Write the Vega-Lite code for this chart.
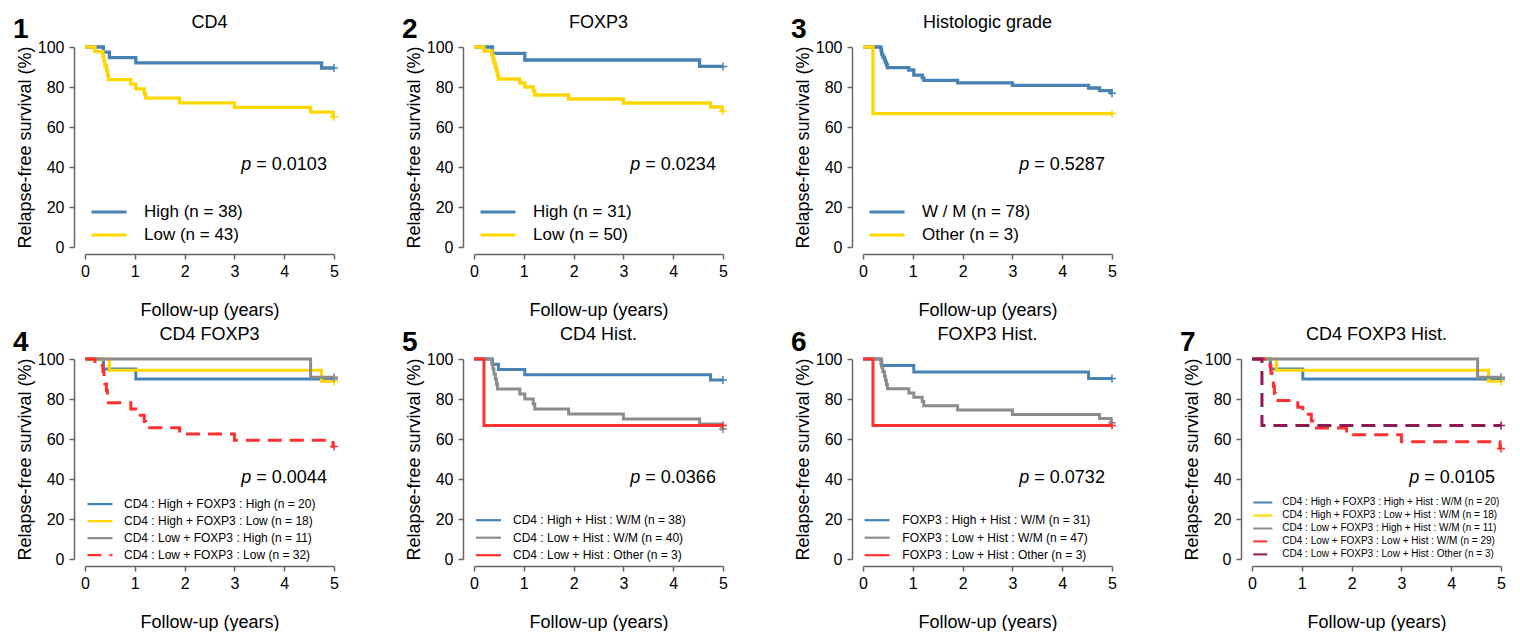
{
  "$schema": "https://vega.github.io/schema/vega-lite/v6.json",
  "padding": {"left": 12, "top": 14, "right": 0, "bottom": 0},
  "background": "white",
  "columns": 4,
  "bounds": "flush",
  "spacing": {"row": 112, "column": 140},
  "resolve": {
    "scale": {"color": "independent", "stroke": "independent", "strokeDash": "independent"},
    "legend": {"color": "independent", "strokeDash": "independent"}
  },
  "config": {
    "font": "Liberation Sans",
    "view": {"stroke": null},
    "axis": {
      "grid": false, "domainColor": "#666666", "domainWidth": 1.5, "tickColor": "#666666", "tickWidth": 1.5,
      "tickSize": 5, "labelColor": "#000000", "labelFontSize": 16, "titleColor": "#000000",
      "titleFontSize": 18, "titleFontWeight": "normal", "labelPadding": 4, "labelOverlap": false, "labelFlush": false
    },
    "axisX": {"offset": 7, "titlePadding": 22},
    "axisY": {"offset": 11, "titlePadding": 3, "labelPadding": 5},
    "legend": {"title": null, "padding": 0, "labelLimit": 600, "labelColor": "#000000", "orient": "none"}
  },
  "datasets": {
    "p1": [
      {"g": "High (n = 38)", "t": 0, "s": 100}, {"g": "High (n = 38)", "t": 0.37, "s": 97.4}, {"g": "High (n = 38)", "t": 0.49, "s": 94.7}, {"g": "High (n = 38)", "t": 1.02, "s": 92.1}, {"g": "High (n = 38)", "t": 4.75, "s": 89.5}, {"g": "High (n = 38)", "t": 5, "s": 89.5},
      {"g": "Low (n = 43)", "t": 0, "s": 100}, {"g": "Low (n = 43)", "t": 0.2, "s": 97.7}, {"g": "Low (n = 43)", "t": 0.36, "s": 95.3}, {"g": "Low (n = 43)", "t": 0.38, "s": 93.0}, {"g": "Low (n = 43)", "t": 0.40, "s": 90.7}, {"g": "Low (n = 43)", "t": 0.43, "s": 88.4}, {"g": "Low (n = 43)", "t": 0.45, "s": 86.0}, {"g": "Low (n = 43)", "t": 0.47, "s": 83.7}, {"g": "Low (n = 43)", "t": 0.92, "s": 81.4}, {"g": "Low (n = 43)", "t": 1.02, "s": 79.1}, {"g": "Low (n = 43)", "t": 1.19, "s": 76.7}, {"g": "Low (n = 43)", "t": 1.22, "s": 74.4}, {"g": "Low (n = 43)", "t": 1.9, "s": 72.1}, {"g": "Low (n = 43)", "t": 3.0, "s": 69.8}, {"g": "Low (n = 43)", "t": 4.53, "s": 67.4}, {"g": "Low (n = 43)", "t": 4.98, "s": 65.1}, {"g": "Low (n = 43)", "t": 5, "s": 65.1}
    ],
    "p2": [
      {"g": "High (n = 31)", "t": 0, "s": 100}, {"g": "High (n = 31)", "t": 0.37, "s": 96.8}, {"g": "High (n = 31)", "t": 1.02, "s": 93.5}, {"g": "High (n = 31)", "t": 4.53, "s": 90.3}, {"g": "High (n = 31)", "t": 5, "s": 90.3},
      {"g": "Low (n = 50)", "t": 0, "s": 100}, {"g": "Low (n = 50)", "t": 0.2, "s": 98}, {"g": "Low (n = 50)", "t": 0.36, "s": 96}, {"g": "Low (n = 50)", "t": 0.38, "s": 94}, {"g": "Low (n = 50)", "t": 0.40, "s": 92}, {"g": "Low (n = 50)", "t": 0.43, "s": 90}, {"g": "Low (n = 50)", "t": 0.45, "s": 88}, {"g": "Low (n = 50)", "t": 0.47, "s": 86}, {"g": "Low (n = 50)", "t": 0.49, "s": 84}, {"g": "Low (n = 50)", "t": 0.92, "s": 82}, {"g": "Low (n = 50)", "t": 1.02, "s": 80}, {"g": "Low (n = 50)", "t": 1.19, "s": 78}, {"g": "Low (n = 50)", "t": 1.22, "s": 76}, {"g": "Low (n = 50)", "t": 1.9, "s": 74}, {"g": "Low (n = 50)", "t": 3.0, "s": 72}, {"g": "Low (n = 50)", "t": 4.75, "s": 70}, {"g": "Low (n = 50)", "t": 4.98, "s": 68}, {"g": "Low (n = 50)", "t": 5, "s": 68}
    ],
    "p3": [
      {"g": "W / M (n = 78)", "t": 0, "s": 100}, {"g": "W / M (n = 78)", "t": 0.36, "s": 98.7}, {"g": "W / M (n = 78)", "t": 0.37, "s": 97.4}, {"g": "W / M (n = 78)", "t": 0.38, "s": 96.2}, {"g": "W / M (n = 78)", "t": 0.40, "s": 94.9}, {"g": "W / M (n = 78)", "t": 0.43, "s": 93.6}, {"g": "W / M (n = 78)", "t": 0.45, "s": 92.3}, {"g": "W / M (n = 78)", "t": 0.47, "s": 91.0}, {"g": "W / M (n = 78)", "t": 0.49, "s": 89.7}, {"g": "W / M (n = 78)", "t": 0.92, "s": 88.5}, {"g": "W / M (n = 78)", "t": 1.02, "s": 85.9}, {"g": "W / M (n = 78)", "t": 1.19, "s": 84.6}, {"g": "W / M (n = 78)", "t": 1.22, "s": 83.3}, {"g": "W / M (n = 78)", "t": 1.9, "s": 82.1}, {"g": "W / M (n = 78)", "t": 3.0, "s": 80.8}, {"g": "W / M (n = 78)", "t": 4.53, "s": 79.5}, {"g": "W / M (n = 78)", "t": 4.75, "s": 78.2}, {"g": "W / M (n = 78)", "t": 4.98, "s": 76.9}, {"g": "W / M (n = 78)", "t": 5, "s": 76.9},
      {"g": "Other (n = 3)", "t": 0, "s": 100}, {"g": "Other (n = 3)", "t": 0.2, "s": 66.7}, {"g": "Other (n = 3)", "t": 5, "s": 66.7}
    ],
    "p4": [
      {"g": "CD4 : High + FOXP3 : High (n = 20)", "t": 0, "s": 100}, {"g": "CD4 : High + FOXP3 : High (n = 20)", "t": 0.37, "s": 95}, {"g": "CD4 : High + FOXP3 : High (n = 20)", "t": 1.02, "s": 90}, {"g": "CD4 : High + FOXP3 : High (n = 20)", "t": 5, "s": 90},
      {"g": "CD4 : High + FOXP3 : Low (n = 18)", "t": 0, "s": 100}, {"g": "CD4 : High + FOXP3 : Low (n = 18)", "t": 0.49, "s": 94.4}, {"g": "CD4 : High + FOXP3 : Low (n = 18)", "t": 4.75, "s": 88.9}, {"g": "CD4 : High + FOXP3 : Low (n = 18)", "t": 5, "s": 88.9},
      {"g": "CD4 : Low + FOXP3 : High (n = 11)", "t": 0, "s": 100}, {"g": "CD4 : Low + FOXP3 : High (n = 11)", "t": 4.53, "s": 90.9}, {"g": "CD4 : Low + FOXP3 : High (n = 11)", "t": 5, "s": 90.9},
      {"g": "CD4 : Low + FOXP3 : Low (n = 32)", "t": 0, "s": 100}, {"g": "CD4 : Low + FOXP3 : Low (n = 32)", "t": 0.2, "s": 96.9}, {"g": "CD4 : Low + FOXP3 : Low (n = 32)", "t": 0.36, "s": 93.8}, {"g": "CD4 : Low + FOXP3 : Low (n = 32)", "t": 0.38, "s": 90.6}, {"g": "CD4 : Low + FOXP3 : Low (n = 32)", "t": 0.40, "s": 87.5}, {"g": "CD4 : Low + FOXP3 : Low (n = 32)", "t": 0.43, "s": 84.4}, {"g": "CD4 : Low + FOXP3 : Low (n = 32)", "t": 0.45, "s": 81.3}, {"g": "CD4 : Low + FOXP3 : Low (n = 32)", "t": 0.47, "s": 78.1}, {"g": "CD4 : Low + FOXP3 : Low (n = 32)", "t": 0.92, "s": 75.0}, {"g": "CD4 : Low + FOXP3 : Low (n = 32)", "t": 1.02, "s": 71.9}, {"g": "CD4 : Low + FOXP3 : Low (n = 32)", "t": 1.19, "s": 68.8}, {"g": "CD4 : Low + FOXP3 : Low (n = 32)", "t": 1.22, "s": 65.6}, {"g": "CD4 : Low + FOXP3 : Low (n = 32)", "t": 1.9, "s": 62.5}, {"g": "CD4 : Low + FOXP3 : Low (n = 32)", "t": 3.0, "s": 59.4}, {"g": "CD4 : Low + FOXP3 : Low (n = 32)", "t": 4.98, "s": 56.3}, {"g": "CD4 : Low + FOXP3 : Low (n = 32)", "t": 5, "s": 56.3}
    ],
    "p5": [
      {"g": "CD4 : High + Hist : W/M (n = 38)", "t": 0, "s": 100}, {"g": "CD4 : High + Hist : W/M (n = 38)", "t": 0.37, "s": 97.4}, {"g": "CD4 : High + Hist : W/M (n = 38)", "t": 0.49, "s": 94.7}, {"g": "CD4 : High + Hist : W/M (n = 38)", "t": 1.02, "s": 92.1}, {"g": "CD4 : High + Hist : W/M (n = 38)", "t": 4.75, "s": 89.5}, {"g": "CD4 : High + Hist : W/M (n = 38)", "t": 5, "s": 89.5},
      {"g": "CD4 : Low + Hist : W/M (n = 40)", "t": 0, "s": 100}, {"g": "CD4 : Low + Hist : W/M (n = 40)", "t": 0.36, "s": 97.5}, {"g": "CD4 : Low + Hist : W/M (n = 40)", "t": 0.38, "s": 95}, {"g": "CD4 : Low + Hist : W/M (n = 40)", "t": 0.40, "s": 92.5}, {"g": "CD4 : Low + Hist : W/M (n = 40)", "t": 0.43, "s": 90}, {"g": "CD4 : Low + Hist : W/M (n = 40)", "t": 0.45, "s": 87.5}, {"g": "CD4 : Low + Hist : W/M (n = 40)", "t": 0.47, "s": 85}, {"g": "CD4 : Low + Hist : W/M (n = 40)", "t": 0.92, "s": 82.5}, {"g": "CD4 : Low + Hist : W/M (n = 40)", "t": 1.02, "s": 80}, {"g": "CD4 : Low + Hist : W/M (n = 40)", "t": 1.19, "s": 77.5}, {"g": "CD4 : Low + Hist : W/M (n = 40)", "t": 1.22, "s": 75}, {"g": "CD4 : Low + Hist : W/M (n = 40)", "t": 1.9, "s": 72.5}, {"g": "CD4 : Low + Hist : W/M (n = 40)", "t": 3.0, "s": 70}, {"g": "CD4 : Low + Hist : W/M (n = 40)", "t": 4.53, "s": 67.5}, {"g": "CD4 : Low + Hist : W/M (n = 40)", "t": 4.98, "s": 65}, {"g": "CD4 : Low + Hist : W/M (n = 40)", "t": 5, "s": 65},
      {"g": "CD4 : Low + Hist : Other (n = 3)", "t": 0, "s": 100}, {"g": "CD4 : Low + Hist : Other (n = 3)", "t": 0.2, "s": 66.7}, {"g": "CD4 : Low + Hist : Other (n = 3)", "t": 5, "s": 66.7}
    ],
    "p6": [
      {"g": "FOXP3 : High + Hist : W/M (n = 31)", "t": 0, "s": 100}, {"g": "FOXP3 : High + Hist : W/M (n = 31)", "t": 0.37, "s": 96.8}, {"g": "FOXP3 : High + Hist : W/M (n = 31)", "t": 1.02, "s": 93.5}, {"g": "FOXP3 : High + Hist : W/M (n = 31)", "t": 4.53, "s": 90.3}, {"g": "FOXP3 : High + Hist : W/M (n = 31)", "t": 5, "s": 90.3},
      {"g": "FOXP3 : Low + Hist : W/M (n = 47)", "t": 0, "s": 100}, {"g": "FOXP3 : Low + Hist : W/M (n = 47)", "t": 0.36, "s": 97.9}, {"g": "FOXP3 : Low + Hist : W/M (n = 47)", "t": 0.38, "s": 95.7}, {"g": "FOXP3 : Low + Hist : W/M (n = 47)", "t": 0.40, "s": 93.6}, {"g": "FOXP3 : Low + Hist : W/M (n = 47)", "t": 0.43, "s": 91.5}, {"g": "FOXP3 : Low + Hist : W/M (n = 47)", "t": 0.45, "s": 89.4}, {"g": "FOXP3 : Low + Hist : W/M (n = 47)", "t": 0.47, "s": 87.2}, {"g": "FOXP3 : Low + Hist : W/M (n = 47)", "t": 0.49, "s": 85.1}, {"g": "FOXP3 : Low + Hist : W/M (n = 47)", "t": 0.92, "s": 83.0}, {"g": "FOXP3 : Low + Hist : W/M (n = 47)", "t": 1.02, "s": 80.9}, {"g": "FOXP3 : Low + Hist : W/M (n = 47)", "t": 1.19, "s": 78.7}, {"g": "FOXP3 : Low + Hist : W/M (n = 47)", "t": 1.22, "s": 76.6}, {"g": "FOXP3 : Low + Hist : W/M (n = 47)", "t": 1.9, "s": 74.5}, {"g": "FOXP3 : Low + Hist : W/M (n = 47)", "t": 3.0, "s": 72.3}, {"g": "FOXP3 : Low + Hist : W/M (n = 47)", "t": 4.75, "s": 70.2}, {"g": "FOXP3 : Low + Hist : W/M (n = 47)", "t": 4.98, "s": 68.1}, {"g": "FOXP3 : Low + Hist : W/M (n = 47)", "t": 5, "s": 68.1},
      {"g": "FOXP3 : Low + Hist : Other (n = 3)", "t": 0, "s": 100}, {"g": "FOXP3 : Low + Hist : Other (n = 3)", "t": 0.2, "s": 66.7}, {"g": "FOXP3 : Low + Hist : Other (n = 3)", "t": 5, "s": 66.7}
    ],
    "p7": [
      {"g": "CD4 : High + FOXP3 : High + Hist : W/M (n = 20)", "t": 0, "s": 100}, {"g": "CD4 : High + FOXP3 : High + Hist : W/M (n = 20)", "t": 0.37, "s": 95}, {"g": "CD4 : High + FOXP3 : High + Hist : W/M (n = 20)", "t": 1.02, "s": 90}, {"g": "CD4 : High + FOXP3 : High + Hist : W/M (n = 20)", "t": 5, "s": 90},
      {"g": "CD4 : High + FOXP3 : Low + Hist : W/M (n = 18)", "t": 0, "s": 100}, {"g": "CD4 : High + FOXP3 : Low + Hist : W/M (n = 18)", "t": 0.49, "s": 94.4}, {"g": "CD4 : High + FOXP3 : Low + Hist : W/M (n = 18)", "t": 4.75, "s": 88.9}, {"g": "CD4 : High + FOXP3 : Low + Hist : W/M (n = 18)", "t": 5, "s": 88.9},
      {"g": "CD4 : Low + FOXP3 : High + Hist : W/M (n = 11)", "t": 0, "s": 100}, {"g": "CD4 : Low + FOXP3 : High + Hist : W/M (n = 11)", "t": 4.53, "s": 90.9}, {"g": "CD4 : Low + FOXP3 : High + Hist : W/M (n = 11)", "t": 5, "s": 90.9},
      {"g": "CD4 : Low + FOXP3 : Low + Hist : W/M (n = 29)", "t": 0, "s": 100}, {"g": "CD4 : Low + FOXP3 : Low + Hist : W/M (n = 29)", "t": 0.36, "s": 96.6}, {"g": "CD4 : Low + FOXP3 : Low + Hist : W/M (n = 29)", "t": 0.38, "s": 93.1}, {"g": "CD4 : Low + FOXP3 : Low + Hist : W/M (n = 29)", "t": 0.40, "s": 89.7}, {"g": "CD4 : Low + FOXP3 : Low + Hist : W/M (n = 29)", "t": 0.43, "s": 86.2}, {"g": "CD4 : Low + FOXP3 : Low + Hist : W/M (n = 29)", "t": 0.45, "s": 82.8}, {"g": "CD4 : Low + FOXP3 : Low + Hist : W/M (n = 29)", "t": 0.47, "s": 79.3}, {"g": "CD4 : Low + FOXP3 : Low + Hist : W/M (n = 29)", "t": 0.92, "s": 75.9}, {"g": "CD4 : Low + FOXP3 : Low + Hist : W/M (n = 29)", "t": 1.02, "s": 72.4}, {"g": "CD4 : Low + FOXP3 : Low + Hist : W/M (n = 29)", "t": 1.19, "s": 69.0}, {"g": "CD4 : Low + FOXP3 : Low + Hist : W/M (n = 29)", "t": 1.22, "s": 65.5}, {"g": "CD4 : Low + FOXP3 : Low + Hist : W/M (n = 29)", "t": 1.9, "s": 62.1}, {"g": "CD4 : Low + FOXP3 : Low + Hist : W/M (n = 29)", "t": 3.0, "s": 58.6}, {"g": "CD4 : Low + FOXP3 : Low + Hist : W/M (n = 29)", "t": 4.98, "s": 55.2}, {"g": "CD4 : Low + FOXP3 : Low + Hist : W/M (n = 29)", "t": 5, "s": 55.2},
      {"g": "CD4 : Low + FOXP3 : Low + Hist : Other (n = 3)", "t": 0, "s": 100}, {"g": "CD4 : Low + FOXP3 : Low + Hist : Other (n = 3)", "t": 0.2, "s": 66.7}, {"g": "CD4 : Low + FOXP3 : Low + Hist : Other (n = 3)", "t": 5, "s": 66.7}
    ]
  },
  "concat": [
    {
      "width": 249, "height": 200,
      "layer": [
        {"data": {"name": "p1"}, "mark": {"type": "line", "interpolate": "step-after", "strokeWidth": 3.3, "strokeCap": "butt"},
         "encoding": {
           "x": {"field": "t", "type": "quantitative", "scale": {"domain": [0, 5]}, "axis": {"title": "Follow-up (years)", "values": [0, 1, 2, 3, 4, 5], "format": "d"}},
           "y": {"field": "s", "type": "quantitative", "scale": {"domain": [0, 100]}, "axis": {"title": "Relapse-free survival (%)", "values": [0, 20, 40, 60, 80, 100], "tickCount": 10, "format": "d"}},
           "color": {"field": "g", "type": "nominal", "scale": {"domain": ["High (n = 38)", "Low (n = 43)"], "range": ["#4682B4", "#FFD700"]},
             "legend": {"legendX": 15.5, "legendY": 156.5, "symbolType": "M-2.5,0H2.5", "symbolSize": 196, "symbolStrokeWidth": 3, "labelFontSize": 17, "labelOffset": 26.5, "rowPadding": 5}}
         }},
        {"data": {"name": "p1"}, "transform": [{"filter": "datum.t >= 5"}], "mark": {"type": "point", "shape": "M-1,0H1M0,-1V1", "size": 64, "filled": false, "strokeWidth": 1.5, "opacity": 1},
         "encoding": {"x": {"field": "t", "type": "quantitative"}, "y": {"field": "s", "type": "quantitative"},
           "stroke": {"field": "g", "type": "nominal", "scale": {"domain": ["High (n = 38)", "Low (n = 43)"], "range": ["#4682B4", "#FFD700"]}, "legend": null}}},
        {"data": {"values": [{"lab": "1"}]}, "mark": {"type": "text", "fontSize": 28, "fontWeight": "bold", "align": "center", "baseline": "alphabetic", "color": "#000000"},
         "encoding": {"x": {"datum": -1.29, "type": "quantitative"}, "y": {"datum": 104.5, "type": "quantitative"}, "text": {"field": "lab"}}},
        {"data": {"values": [{"lab": "CD4"}]}, "mark": {"type": "text", "fontSize": 18, "align": "center", "baseline": "alphabetic", "color": "#000000"},
         "encoding": {"x": {"datum": 2.5, "type": "quantitative"}, "y": {"datum": 109.3, "type": "quantitative"}, "text": {"field": "lab"}}},
        {"data": {"values": [{"lab": "p"}]}, "mark": {"type": "text", "fontSize": 18, "fontStyle": "italic", "align": "right", "baseline": "middle", "dx": -2, "color": "#000000"},
         "encoding": {"x": {"datum": 3.38, "type": "quantitative"}, "y": {"datum": 41, "type": "quantitative"}, "text": {"field": "lab"}}},
        {"data": {"values": [{"lab": "= 0.0103"}]}, "mark": {"type": "text", "fontSize": 18, "align": "left", "baseline": "middle", "dx": 3, "color": "#000000"},
         "encoding": {"x": {"datum": 3.38, "type": "quantitative"}, "y": {"datum": 41, "type": "quantitative"}, "text": {"field": "lab"}}}
      ]
    },
    {
      "width": 249, "height": 200,
      "layer": [
        {"data": {"name": "p2"}, "mark": {"type": "line", "interpolate": "step-after", "strokeWidth": 3.3, "strokeCap": "butt"},
         "encoding": {
           "x": {"field": "t", "type": "quantitative", "scale": {"domain": [0, 5]}, "axis": {"title": "Follow-up (years)", "values": [0, 1, 2, 3, 4, 5], "format": "d"}},
           "y": {"field": "s", "type": "quantitative", "scale": {"domain": [0, 100]}, "axis": {"title": "Relapse-free survival (%)", "values": [0, 20, 40, 60, 80, 100], "tickCount": 10, "format": "d"}},
           "color": {"field": "g", "type": "nominal", "scale": {"domain": ["High (n = 31)", "Low (n = 50)"], "range": ["#4682B4", "#FFD700"]},
             "legend": {"legendX": 15.5, "legendY": 156.5, "symbolType": "M-2.5,0H2.5", "symbolSize": 196, "symbolStrokeWidth": 3, "labelFontSize": 17, "labelOffset": 26.5, "rowPadding": 5}}
         }},
        {"data": {"name": "p2"}, "transform": [{"filter": "datum.t >= 5"}], "mark": {"type": "point", "shape": "M-1,0H1M0,-1V1", "size": 64, "filled": false, "strokeWidth": 1.5, "opacity": 1},
         "encoding": {"x": {"field": "t", "type": "quantitative"}, "y": {"field": "s", "type": "quantitative"},
           "stroke": {"field": "g", "type": "nominal", "scale": {"domain": ["High (n = 31)", "Low (n = 50)"], "range": ["#4682B4", "#FFD700"]}, "legend": null}}},
        {"data": {"values": [{"lab": "2"}]}, "mark": {"type": "text", "fontSize": 28, "fontWeight": "bold", "align": "center", "baseline": "alphabetic", "color": "#000000"},
         "encoding": {"x": {"datum": -1.29, "type": "quantitative"}, "y": {"datum": 104.5, "type": "quantitative"}, "text": {"field": "lab"}}},
        {"data": {"values": [{"lab": "FOXP3"}]}, "mark": {"type": "text", "fontSize": 18, "align": "center", "baseline": "alphabetic", "color": "#000000"},
         "encoding": {"x": {"datum": 2.5, "type": "quantitative"}, "y": {"datum": 109.3, "type": "quantitative"}, "text": {"field": "lab"}}},
        {"data": {"values": [{"lab": "p"}]}, "mark": {"type": "text", "fontSize": 18, "fontStyle": "italic", "align": "right", "baseline": "middle", "dx": -2, "color": "#000000"},
         "encoding": {"x": {"datum": 3.38, "type": "quantitative"}, "y": {"datum": 41, "type": "quantitative"}, "text": {"field": "lab"}}},
        {"data": {"values": [{"lab": "= 0.0234"}]}, "mark": {"type": "text", "fontSize": 18, "align": "left", "baseline": "middle", "dx": 3, "color": "#000000"},
         "encoding": {"x": {"datum": 3.38, "type": "quantitative"}, "y": {"datum": 41, "type": "quantitative"}, "text": {"field": "lab"}}}
      ]
    },
    {
      "width": 249, "height": 200,
      "layer": [
        {"data": {"name": "p3"}, "mark": {"type": "line", "interpolate": "step-after", "strokeWidth": 3.3, "strokeCap": "butt"},
         "encoding": {
           "x": {"field": "t", "type": "quantitative", "scale": {"domain": [0, 5]}, "axis": {"title": "Follow-up (years)", "values": [0, 1, 2, 3, 4, 5], "format": "d"}},
           "y": {"field": "s", "type": "quantitative", "scale": {"domain": [0, 100]}, "axis": {"title": "Relapse-free survival (%)", "values": [0, 20, 40, 60, 80, 100], "tickCount": 10, "format": "d"}},
           "color": {"field": "g", "type": "nominal", "scale": {"domain": ["W / M (n = 78)", "Other (n = 3)"], "range": ["#4682B4", "#FFD700"]},
             "legend": {"legendX": 15.5, "legendY": 156.5, "symbolType": "M-2.5,0H2.5", "symbolSize": 196, "symbolStrokeWidth": 3, "labelFontSize": 17, "labelOffset": 26.5, "rowPadding": 5}}
         }},
        {"data": {"name": "p3"}, "transform": [{"filter": "datum.t >= 5"}], "mark": {"type": "point", "shape": "M-1,0H1M0,-1V1", "size": 64, "filled": false, "strokeWidth": 1.5, "opacity": 1},
         "encoding": {"x": {"field": "t", "type": "quantitative"}, "y": {"field": "s", "type": "quantitative"},
           "stroke": {"field": "g", "type": "nominal", "scale": {"domain": ["W / M (n = 78)", "Other (n = 3)"], "range": ["#4682B4", "#FFD700"]}, "legend": null}}},
        {"data": {"values": [{"lab": "3"}]}, "mark": {"type": "text", "fontSize": 28, "fontWeight": "bold", "align": "center", "baseline": "alphabetic", "color": "#000000"},
         "encoding": {"x": {"datum": -1.29, "type": "quantitative"}, "y": {"datum": 104.5, "type": "quantitative"}, "text": {"field": "lab"}}},
        {"data": {"values": [{"lab": "Histologic grade"}]}, "mark": {"type": "text", "fontSize": 18, "align": "center", "baseline": "alphabetic", "color": "#000000"},
         "encoding": {"x": {"datum": 2.5, "type": "quantitative"}, "y": {"datum": 109.3, "type": "quantitative"}, "text": {"field": "lab"}}},
        {"data": {"values": [{"lab": "p"}]}, "mark": {"type": "text", "fontSize": 18, "fontStyle": "italic", "align": "right", "baseline": "middle", "dx": -2, "color": "#000000"},
         "encoding": {"x": {"datum": 3.38, "type": "quantitative"}, "y": {"datum": 41, "type": "quantitative"}, "text": {"field": "lab"}}},
        {"data": {"values": [{"lab": "= 0.5287"}]}, "mark": {"type": "text", "fontSize": 18, "align": "left", "baseline": "middle", "dx": 3, "color": "#000000"},
         "encoding": {"x": {"datum": 3.38, "type": "quantitative"}, "y": {"datum": 41, "type": "quantitative"}, "text": {"field": "lab"}}}
      ]
    },
    {"width": 249, "height": 200, "data": {"values": []}, "mark": "point"},
    {
      "width": 249, "height": 200,
      "layer": [
        {"data": {"name": "p4"}, "mark": {"type": "line", "interpolate": "step-after", "strokeWidth": 3, "strokeCap": "butt"},
         "encoding": {
           "x": {"field": "t", "type": "quantitative", "scale": {"domain": [0, 5]}, "axis": {"title": "Follow-up (years)", "values": [0, 1, 2, 3, 4, 5], "format": "d"}},
           "y": {"field": "s", "type": "quantitative", "scale": {"domain": [0, 100]}, "axis": {"title": "Relapse-free survival (%)", "values": [0, 20, 40, 60, 80, 100], "tickCount": 10, "format": "d"}},
           "color": {"field": "g", "type": "nominal", "scale": {"domain": ["CD4 : High + FOXP3 : High (n = 20)", "CD4 : High + FOXP3 : Low (n = 18)", "CD4 : Low + FOXP3 : High (n = 11)", "CD4 : Low + FOXP3 : Low (n = 32)"], "range": ["#4682B4", "#FFD700", "#8C8C8C", "#FF3030"]},
             "legend": {"legendX": 8.5, "legendY": 138.7, "symbolType": "M-2.5,0H2.5", "symbolSize": 100, "symbolStrokeWidth": 2.2, "labelFontSize": 12, "labelOffset": 17.5, "rowPadding": 4}},
           "strokeDash": {"field": "g", "type": "nominal", "scale": {"domain": ["CD4 : High + FOXP3 : High (n = 20)", "CD4 : High + FOXP3 : Low (n = 18)", "CD4 : Low + FOXP3 : High (n = 11)", "CD4 : Low + FOXP3 : Low (n = 32)"], "range": [[1, 0], [1, 0], [1, 0], [14, 8]]},
             "legend": {"legendX": 8.5, "legendY": 138.7, "symbolType": "M-2.5,0H2.5", "symbolSize": 100, "symbolStrokeWidth": 2.2, "labelFontSize": 12, "labelOffset": 17.5, "rowPadding": 4}}
         }},
        {"data": {"name": "p4"}, "transform": [{"filter": "datum.t >= 5"}], "mark": {"type": "point", "shape": "M-1,0H1M0,-1V1", "size": 64, "filled": false, "strokeWidth": 1.5, "opacity": 1},
         "encoding": {"x": {"field": "t", "type": "quantitative"}, "y": {"field": "s", "type": "quantitative"},
           "stroke": {"field": "g", "type": "nominal", "scale": {"domain": ["CD4 : High + FOXP3 : High (n = 20)", "CD4 : High + FOXP3 : Low (n = 18)", "CD4 : Low + FOXP3 : High (n = 11)", "CD4 : Low + FOXP3 : Low (n = 32)"], "range": ["#4682B4", "#FFD700", "#8C8C8C", "#FF3030"]}, "legend": null}}},
        {"data": {"values": [{"lab": "4"}]}, "mark": {"type": "text", "fontSize": 28, "fontWeight": "bold", "align": "center", "baseline": "alphabetic", "color": "#000000"},
         "encoding": {"x": {"datum": -1.29, "type": "quantitative"}, "y": {"datum": 104, "type": "quantitative"}, "text": {"field": "lab"}}},
        {"data": {"values": [{"lab": "CD4 FOXP3"}]}, "mark": {"type": "text", "fontSize": 18, "align": "center", "baseline": "alphabetic", "color": "#000000"},
         "encoding": {"x": {"datum": 2.5, "type": "quantitative"}, "y": {"datum": 109.3, "type": "quantitative"}, "text": {"field": "lab"}}},
        {"data": {"values": [{"lab": "p"}]}, "mark": {"type": "text", "fontSize": 18, "fontStyle": "italic", "align": "right", "baseline": "middle", "dx": -2, "color": "#000000"},
         "encoding": {"x": {"datum": 3.38, "type": "quantitative"}, "y": {"datum": 40.5, "type": "quantitative"}, "text": {"field": "lab"}}},
        {"data": {"values": [{"lab": "= 0.0044"}]}, "mark": {"type": "text", "fontSize": 18, "align": "left", "baseline": "middle", "dx": 3, "color": "#000000"},
         "encoding": {"x": {"datum": 3.38, "type": "quantitative"}, "y": {"datum": 40.5, "type": "quantitative"}, "text": {"field": "lab"}}}
      ]
    },
    {
      "width": 249, "height": 200,
      "layer": [
        {"data": {"name": "p5"}, "mark": {"type": "line", "interpolate": "step-after", "strokeWidth": 3, "strokeCap": "butt"},
         "encoding": {
           "x": {"field": "t", "type": "quantitative", "scale": {"domain": [0, 5]}, "axis": {"title": "Follow-up (years)", "values": [0, 1, 2, 3, 4, 5], "format": "d"}},
           "y": {"field": "s", "type": "quantitative", "scale": {"domain": [0, 100]}, "axis": {"title": "Relapse-free survival (%)", "values": [0, 20, 40, 60, 80, 100], "tickCount": 10, "format": "d"}},
           "color": {"field": "g", "type": "nominal", "scale": {"domain": ["CD4 : High + Hist : W/M (n = 38)", "CD4 : Low + Hist : W/M (n = 40)", "CD4 : Low + Hist : Other (n = 3)"], "range": ["#4682B4", "#8C8C8C", "#FF3030"]},
             "legend": {"legendX": 8, "legendY": 154.7, "symbolType": "M-2.5,0H2.5", "symbolSize": 100, "symbolStrokeWidth": 2.2, "labelFontSize": 12, "labelOffset": 18, "rowPadding": 4.5}}
         }},
        {"data": {"name": "p5"}, "transform": [{"filter": "datum.t >= 5"}], "mark": {"type": "point", "shape": "M-1,0H1M0,-1V1", "size": 64, "filled": false, "strokeWidth": 1.5, "opacity": 1},
         "encoding": {"x": {"field": "t", "type": "quantitative"}, "y": {"field": "s", "type": "quantitative"},
           "stroke": {"field": "g", "type": "nominal", "scale": {"domain": ["CD4 : High + Hist : W/M (n = 38)", "CD4 : Low + Hist : W/M (n = 40)", "CD4 : Low + Hist : Other (n = 3)"], "range": ["#4682B4", "#8C8C8C", "#FF3030"]}, "legend": null}}},
        {"data": {"values": [{"lab": "5"}]}, "mark": {"type": "text", "fontSize": 28, "fontWeight": "bold", "align": "center", "baseline": "alphabetic", "color": "#000000"},
         "encoding": {"x": {"datum": -1.29, "type": "quantitative"}, "y": {"datum": 104, "type": "quantitative"}, "text": {"field": "lab"}}},
        {"data": {"values": [{"lab": "CD4 Hist."}]}, "mark": {"type": "text", "fontSize": 18, "align": "center", "baseline": "alphabetic", "color": "#000000"},
         "encoding": {"x": {"datum": 2.5, "type": "quantitative"}, "y": {"datum": 109.3, "type": "quantitative"}, "text": {"field": "lab"}}},
        {"data": {"values": [{"lab": "p"}]}, "mark": {"type": "text", "fontSize": 18, "fontStyle": "italic", "align": "right", "baseline": "middle", "dx": -2, "color": "#000000"},
         "encoding": {"x": {"datum": 3.38, "type": "quantitative"}, "y": {"datum": 40.5, "type": "quantitative"}, "text": {"field": "lab"}}},
        {"data": {"values": [{"lab": "= 0.0366"}]}, "mark": {"type": "text", "fontSize": 18, "align": "left", "baseline": "middle", "dx": 3, "color": "#000000"},
         "encoding": {"x": {"datum": 3.38, "type": "quantitative"}, "y": {"datum": 40.5, "type": "quantitative"}, "text": {"field": "lab"}}}
      ]
    },
    {
      "width": 249, "height": 200,
      "layer": [
        {"data": {"name": "p6"}, "mark": {"type": "line", "interpolate": "step-after", "strokeWidth": 3, "strokeCap": "butt"},
         "encoding": {
           "x": {"field": "t", "type": "quantitative", "scale": {"domain": [0, 5]}, "axis": {"title": "Follow-up (years)", "values": [0, 1, 2, 3, 4, 5], "format": "d"}},
           "y": {"field": "s", "type": "quantitative", "scale": {"domain": [0, 100]}, "axis": {"title": "Relapse-free survival (%)", "values": [0, 20, 40, 60, 80, 100], "tickCount": 10, "format": "d"}},
           "color": {"field": "g", "type": "nominal", "scale": {"domain": ["FOXP3 : High + Hist : W/M (n = 31)", "FOXP3 : Low + Hist : W/M (n = 47)", "FOXP3 : Low + Hist : Other (n = 3)"], "range": ["#4682B4", "#8C8C8C", "#FF3030"]},
             "legend": {"legendX": 7.6, "legendY": 154.7, "symbolType": "M-2.5,0H2.5", "symbolSize": 100, "symbolStrokeWidth": 2.2, "labelFontSize": 12, "labelOffset": 18.7, "rowPadding": 4.5}}
         }},
        {"data": {"name": "p6"}, "transform": [{"filter": "datum.t >= 5"}], "mark": {"type": "point", "shape": "M-1,0H1M0,-1V1", "size": 64, "filled": false, "strokeWidth": 1.5, "opacity": 1},
         "encoding": {"x": {"field": "t", "type": "quantitative"}, "y": {"field": "s", "type": "quantitative"},
           "stroke": {"field": "g", "type": "nominal", "scale": {"domain": ["FOXP3 : High + Hist : W/M (n = 31)", "FOXP3 : Low + Hist : W/M (n = 47)", "FOXP3 : Low + Hist : Other (n = 3)"], "range": ["#4682B4", "#8C8C8C", "#FF3030"]}, "legend": null}}},
        {"data": {"values": [{"lab": "6"}]}, "mark": {"type": "text", "fontSize": 28, "fontWeight": "bold", "align": "center", "baseline": "alphabetic", "color": "#000000"},
         "encoding": {"x": {"datum": -1.29, "type": "quantitative"}, "y": {"datum": 104, "type": "quantitative"}, "text": {"field": "lab"}}},
        {"data": {"values": [{"lab": "FOXP3 Hist."}]}, "mark": {"type": "text", "fontSize": 18, "align": "center", "baseline": "alphabetic", "color": "#000000"},
         "encoding": {"x": {"datum": 2.5, "type": "quantitative"}, "y": {"datum": 109.3, "type": "quantitative"}, "text": {"field": "lab"}}},
        {"data": {"values": [{"lab": "p"}]}, "mark": {"type": "text", "fontSize": 18, "fontStyle": "italic", "align": "right", "baseline": "middle", "dx": -2, "color": "#000000"},
         "encoding": {"x": {"datum": 3.38, "type": "quantitative"}, "y": {"datum": 40.5, "type": "quantitative"}, "text": {"field": "lab"}}},
        {"data": {"values": [{"lab": "= 0.0732"}]}, "mark": {"type": "text", "fontSize": 18, "align": "left", "baseline": "middle", "dx": 3, "color": "#000000"},
         "encoding": {"x": {"datum": 3.38, "type": "quantitative"}, "y": {"datum": 40.5, "type": "quantitative"}, "text": {"field": "lab"}}}
      ]
    },
    {
      "width": 249, "height": 200,
      "layer": [
        {"data": {"name": "p7"}, "mark": {"type": "line", "interpolate": "step-after", "strokeWidth": 3, "strokeCap": "butt"},
         "encoding": {
           "x": {"field": "t", "type": "quantitative", "scale": {"domain": [0, 5]}, "axis": {"title": "Follow-up (years)", "values": [0, 1, 2, 3, 4, 5], "format": "d"}},
           "y": {"field": "s", "type": "quantitative", "scale": {"domain": [0, 100]}, "axis": {"title": "Relapse-free survival (%)", "values": [0, 20, 40, 60, 80, 100], "tickCount": 10, "format": "d"}},
           "color": {"field": "g", "type": "nominal", "scale": {"domain": ["CD4 : High + FOXP3 : High + Hist : W/M (n = 20)", "CD4 : High + FOXP3 : Low + Hist : W/M (n = 18)", "CD4 : Low + FOXP3 : High + Hist : W/M (n = 11)", "CD4 : Low + FOXP3 : Low + Hist : W/M (n = 29)", "CD4 : Low + FOXP3 : Low + Hist : Other (n = 3)"], "range": ["#4682B4", "#FFD700", "#8C8C8C", "#FF3030", "#8B1A55"]},
             "legend": {"legendX": 5.8, "legendY": 138.4, "symbolType": "M-2.4,0H2.4", "symbolSize": 64, "symbolStrokeWidth": 2, "labelFontSize": 10, "labelOffset": 14.5, "rowPadding": 3}},
           "strokeDash": {"field": "g", "type": "nominal", "scale": {"domain": ["CD4 : High + FOXP3 : High + Hist : W/M (n = 20)", "CD4 : High + FOXP3 : Low + Hist : W/M (n = 18)", "CD4 : Low + FOXP3 : High + Hist : W/M (n = 11)", "CD4 : Low + FOXP3 : Low + Hist : W/M (n = 29)", "CD4 : Low + FOXP3 : Low + Hist : Other (n = 3)"], "range": [[1, 0], [1, 0], [1, 0], [14, 8], [14, 8]]},
             "legend": {"legendX": 5.8, "legendY": 138.4, "symbolType": "M-2.4,0H2.4", "symbolSize": 64, "symbolStrokeWidth": 2, "labelFontSize": 10, "labelOffset": 14.5, "rowPadding": 3}}
         }},
        {"data": {"name": "p7"}, "transform": [{"filter": "datum.t >= 5"}], "mark": {"type": "point", "shape": "M-1,0H1M0,-1V1", "size": 64, "filled": false, "strokeWidth": 1.5, "opacity": 1},
         "encoding": {"x": {"field": "t", "type": "quantitative"}, "y": {"field": "s", "type": "quantitative"},
           "stroke": {"field": "g", "type": "nominal", "scale": {"domain": ["CD4 : High + FOXP3 : High + Hist : W/M (n = 20)", "CD4 : High + FOXP3 : Low + Hist : W/M (n = 18)", "CD4 : Low + FOXP3 : High + Hist : W/M (n = 11)", "CD4 : Low + FOXP3 : Low + Hist : W/M (n = 29)", "CD4 : Low + FOXP3 : Low + Hist : Other (n = 3)"], "range": ["#4682B4", "#FFD700", "#8C8C8C", "#FF3030", "#8B1A55"]}, "legend": null}}},
        {"data": {"values": [{"lab": "7"}]}, "mark": {"type": "text", "fontSize": 28, "fontWeight": "bold", "align": "center", "baseline": "alphabetic", "color": "#000000"},
         "encoding": {"x": {"datum": -1.29, "type": "quantitative"}, "y": {"datum": 104, "type": "quantitative"}, "text": {"field": "lab"}}},
        {"data": {"values": [{"lab": "CD4 FOXP3 Hist."}]}, "mark": {"type": "text", "fontSize": 18, "align": "center", "baseline": "alphabetic", "color": "#000000"},
         "encoding": {"x": {"datum": 2.5, "type": "quantitative"}, "y": {"datum": 109.3, "type": "quantitative"}, "text": {"field": "lab"}}},
        {"data": {"values": [{"lab": "p"}]}, "mark": {"type": "text", "fontSize": 18, "fontStyle": "italic", "align": "right", "baseline": "middle", "dx": -2, "color": "#000000"},
         "encoding": {"x": {"datum": 3.4, "type": "quantitative"}, "y": {"datum": 40.5, "type": "quantitative"}, "text": {"field": "lab"}}},
        {"data": {"values": [{"lab": "= 0.0105"}]}, "mark": {"type": "text", "fontSize": 18, "align": "left", "baseline": "middle", "dx": 3, "color": "#000000"},
         "encoding": {"x": {"datum": 3.4, "type": "quantitative"}, "y": {"datum": 40.5, "type": "quantitative"}, "text": {"field": "lab"}}}
      ]
    }
  ]
}
